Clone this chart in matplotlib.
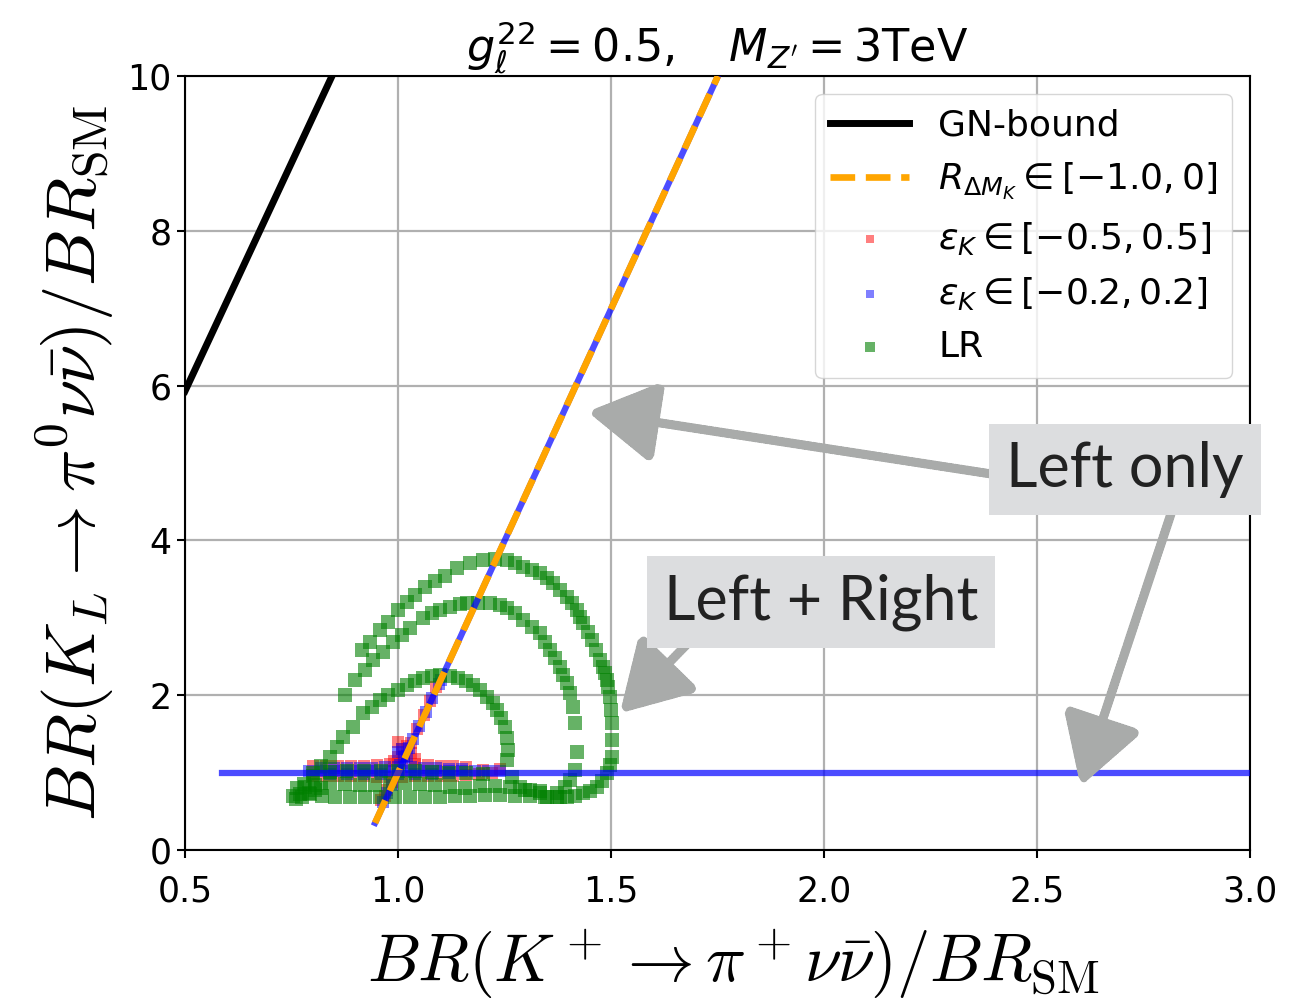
import numpy as np
import matplotlib.pyplot as plt

# Lines: GN bound, Delta M_K band (left-handed), epsilon_K horizontal line
gn_x = [0.5, 0.845]
gn_y = [5.93, 10.0]
dmk_x = [0.946, 1.751]
dmk_y = [0.35, 10.0]
eps_line_x = [0.587, 3.0]
eps_line_y = [1.0, 1.0]

# epsilon_K in [-0.5, 0.5] points (red)
red_x = [0.80, 0.83, 0.86, 0.89, 0.92, 0.95, 0.98, 1.01, 1.04, 1.07, 1.10, 1.13, 1.16,
         0.80, 0.83, 0.86, 0.89, 0.92, 0.95, 0.98, 1.01, 1.04, 1.07, 1.10, 1.13, 1.16, 1.19, 1.22,
         1.20, 1.24,
         1.00, 1.01, 1.00, 1.03, 0.99, 1.04, 1.02,
         0.96, 0.97, 0.975, 0.985, 1.015, 1.03, 1.045, 1.06, 1.075, 1.09]
red_y = [1.09, 1.09, 1.09, 1.09, 1.09, 1.10, 1.11, 1.12, 1.11, 1.10, 1.09, 1.08, 1.07,
         0.95, 0.95, 0.95, 0.95, 0.95, 0.94, 0.94, 0.94, 0.95, 0.95, 0.95, 0.96, 0.97, 0.98, 0.99,
         1.04, 1.05,
         1.20, 1.30, 1.40, 1.25, 1.15, 1.18, 1.35,
         0.64, 0.70, 0.78, 0.88, 1.22, 1.38, 1.56, 1.74, 1.92, 2.10]

# epsilon_K in [-0.2, 0.2] points (blue)
blue_x = [0.79, 0.82, 0.85, 0.88, 0.91, 0.94, 0.97, 1.00, 1.03, 1.06, 1.09, 1.12, 1.15, 1.18, 1.21, 1.24,
          0.82, 0.85, 0.88, 0.91, 0.94, 0.97, 1.00, 1.03, 1.06, 1.09, 1.12, 1.15,
          0.84, 0.88, 0.92, 0.96, 1.00, 1.04, 1.08, 1.12,
          0.965, 0.975, 0.985, 1.005, 1.015, 1.025, 1.035, 1.05, 1.065, 1.08, 1.095, 1.10,
          1.00, 1.01, 1.02]
blue_y = [1.02, 1.02, 1.02, 1.02, 1.02, 1.02, 1.02, 1.02, 1.02, 1.02, 1.02, 1.02, 1.02, 1.02, 1.02, 1.02,
          1.06, 1.06, 1.06, 1.06, 1.06, 1.07, 1.07, 1.07, 1.06, 1.06, 1.05, 1.05,
          0.98, 0.98, 0.98, 0.98, 0.98, 0.98, 0.98, 0.99,
          0.62, 0.74, 0.84, 1.10, 1.20, 1.32, 1.44, 1.60, 1.78, 1.96, 2.14, 2.20,
          1.26, 1.30, 1.22]

# LR points (green): three arcs plus the bottom band
lr_outer_x = [0.915, 0.934, 0.958, 0.977, 1.000, 1.021, 1.040, 1.063, 1.087, 1.110,
              1.138, 1.169, 1.200, 1.228, 1.256, 1.275, 1.293, 1.315, 1.333, 1.350,
              1.364, 1.380, 1.397, 1.408, 1.420, 1.427, 1.434, 1.446, 1.455, 1.465,
              1.474, 1.481, 1.486, 1.491, 1.493, 1.498, 1.500, 1.502, 1.502, 1.502,
              1.498, 1.491, 1.479, 1.467, 1.451, 1.434, 1.415, 1.397, 1.373, 1.350]
lr_outer_y = [2.58, 2.69, 2.84, 2.95, 3.10, 3.20, 3.29, 3.40, 3.48, 3.54,
              3.64, 3.71, 3.75, 3.76, 3.75, 3.71, 3.66, 3.62, 3.58, 3.51,
              3.45, 3.36, 3.27, 3.19, 3.10, 3.01, 2.93, 2.82, 2.71, 2.58,
              2.45, 2.36, 2.29, 2.20, 2.11, 1.98, 1.81, 1.64, 1.42, 1.20,
              1.10, 0.99, 0.89, 0.81, 0.76, 0.74, 0.70, 0.68, 0.68, 0.68]

lr_middle_x = [0.876, 0.899, 0.923, 0.941, 0.965, 0.988, 1.009, 1.028, 1.059, 1.080,
               1.099, 1.122, 1.146, 1.162, 1.188, 1.216, 1.239, 1.256, 1.275, 1.293,
               1.315, 1.333, 1.345, 1.357, 1.369, 1.380, 1.387, 1.397, 1.404, 1.411,
               1.415, 1.420, 1.415, 1.404, 1.392, 1.373]
lr_middle_y = [2.00, 2.20, 2.33, 2.45, 2.56, 2.69, 2.78, 2.87, 3.00, 3.06,
               3.10, 3.14, 3.18, 3.19, 3.19, 3.19, 3.17, 3.13, 3.06, 2.97,
               2.88, 2.80, 2.69, 2.58, 2.48, 2.36, 2.26, 2.16, 2.03, 1.85,
               1.64, 1.27, 1.03, 0.90, 0.81, 0.74]

lr_inner_x = [0.780, 0.800, 0.820, 0.840, 0.857, 0.871, 0.894, 0.918, 0.939, 0.958, 0.977, 1.000, 1.021,
              1.040, 1.059, 1.080, 1.099, 1.122, 1.141, 1.160, 1.176, 1.192, 1.209,
              1.223, 1.232, 1.242, 1.251, 1.256, 1.258, 1.256, 1.268, 1.286, 1.310, 1.333]
lr_inner_y = [0.85, 0.95, 1.08, 1.20, 1.33, 1.46, 1.59, 1.77, 1.85, 1.94, 2.00, 2.07, 2.13,
              2.18, 2.22, 2.25, 2.26, 2.25, 2.22, 2.18, 2.13, 2.07, 1.98,
              1.90, 1.81, 1.71, 1.59, 1.45, 1.29, 1.16, 0.94, 0.81, 0.78, 0.74]

lr_bottom_x = [0.754, 0.770, 0.793, 0.822, 0.852, 0.887, 0.923, 0.958, 0.993, 1.028,
               1.063, 1.099, 1.134, 1.169, 1.204, 1.239, 1.275, 1.310, 1.345, 1.380,
               0.763, 0.782, 0.805, 0.840, 0.876, 0.911, 0.946, 0.981, 1.016, 1.052,
               1.087, 1.122, 1.157, 1.192, 1.228, 1.263, 1.298, 1.333,
               0.760, 0.775, 0.790, 0.805, 0.820,
               0.80, 0.84, 0.88, 0.92, 0.96, 1.00, 1.04, 1.08, 1.12, 1.16, 1.20]
lr_bottom_y = [0.70, 0.72, 0.72, 0.70, 0.68, 0.68, 0.68, 0.68, 0.68, 0.68,
               0.68, 0.68, 0.70, 0.70, 0.71, 0.71, 0.70, 0.70, 0.69, 0.69,
               0.80, 0.82, 0.84, 0.86, 0.85, 0.84, 0.84, 0.86, 0.86, 0.85,
               0.84, 0.82, 0.80, 0.83, 0.83, 0.81, 0.78, 0.76,
               0.66, 0.68, 0.74, 0.78, 0.80,
               1.00, 1.01, 1.02, 1.02, 1.02, 1.02, 1.02, 1.01, 1.00, 0.99, 0.98]

lr_x = lr_outer_x + lr_middle_x + lr_inner_x + lr_bottom_x
lr_y = lr_outer_y + lr_middle_y + lr_inner_y + lr_bottom_y

fig = plt.figure(figsize=(13.05, 10), dpi=100)
ax = fig.add_axes([0.1418, 0.15, 0.8161, 0.774])

ax.grid(True, color='#b0b0b0', lw=1.6, zorder=0)
ax.set_axisbelow(True)

gn, = ax.plot(gn_x, gn_y, color='black', lw=5, label='GN-bound', zorder=3)
ax.plot(dmk_x, dmk_y, color='blue', alpha=0.7, lw=4.5, zorder=3)
dmk, = ax.plot(dmk_x, dmk_y, color='orange', lw=4.8, ls='--',
               label=r'$R_{\Delta M_K} \in [-1.0, 0]$', zorder=4)

sc_r = ax.scatter(red_x, red_y, marker='s', s=65, color='red', alpha=0.5, lw=0,
                  label=r'$\varepsilon_K \in [-0.5, 0.5]$', zorder=2)
sc_b = ax.scatter(blue_x, blue_y, marker='s', s=65, color='blue', alpha=0.5, lw=0,
                  label=r'$\varepsilon_K \in [-0.2, 0.2]$', zorder=2)
sc_g = ax.scatter(lr_x, lr_y, marker='s', s=90, color='green', alpha=0.6, lw=0,
                  label='LR', zorder=2)

ax.plot(eps_line_x, eps_line_y, color='blue', alpha=0.7, lw=4.5, zorder=5)

ax.set_xlim(0.5, 3.0)
ax.set_ylim(0, 10)
ax.set_xticks([0.5, 1.0, 1.5, 2.0, 2.5, 3.0])
ax.set_yticks([0, 2, 4, 6, 8, 10])
ax.tick_params(labelsize=25, length=6, width=1.5)
ax.tick_params(axis='x', pad=12)
for sp in ax.spines.values():
    sp.set_linewidth(1.5)

ax.set_xlabel(r'$BR(K^+ \to \pi^+\nu\bar{\nu})/BR_{\rm SM}$', fontsize=48,
              math_fontfamily='cm', labelpad=8)
ax.xaxis.set_label_coords(0.515, -0.1)
ax.xaxis.label.set_va('top')
ax.set_ylabel(r'$BR(K_L \to \pi^0\nu\bar{\nu})/BR_{\rm SM}$', fontsize=51,
              math_fontfamily='cm', labelpad=8)
ax.set_title(r"$g_\ell^{22} = 0.5, \quad M_{Z'} = 3$TeV", fontsize=32, pad=8)

ax.legend(handles=[gn, dmk, sc_r, sc_b, sc_g], loc='upper right', fontsize=26,
          handlelength=2.2, markerscale=0.75)

# hand-drawn style annotations
arrow_kw = dict(arrowstyle='-|>,head_length=1.7,head_width=1.0', color='#a9abaa',
                lw=5.5, mutation_scale=25, shrinkA=0, shrinkB=0)
for tail, tip in [((2.408, 4.845), (1.448, 5.66)),
                  ((2.815, 4.354), (2.603, 0.84)),
                  ((1.681, 2.674), (1.523, 1.78))]:
    an = ax.annotate('', xy=tip, xytext=tail, arrowprops=arrow_kw, zorder=6)
    an.arrow_patch.set_sketch_params(1.0, 3, 1)

box_kw = dict(boxstyle='square,pad=0.28', fc='#dcdddf', ec='none')
ax.text(2.707, 4.92, 'Left only', fontsize=44, family='Lato', color='#222222',
        ha='center', va='center', bbox=box_kw, zorder=7, clip_on=False)
ax.text(1.993, 3.20, 'Left + Right', fontsize=44, family='Lato', color='#222222',
        ha='center', va='center', bbox=box_kw, zorder=7)

fig.savefig('out.png', dpi=100)
